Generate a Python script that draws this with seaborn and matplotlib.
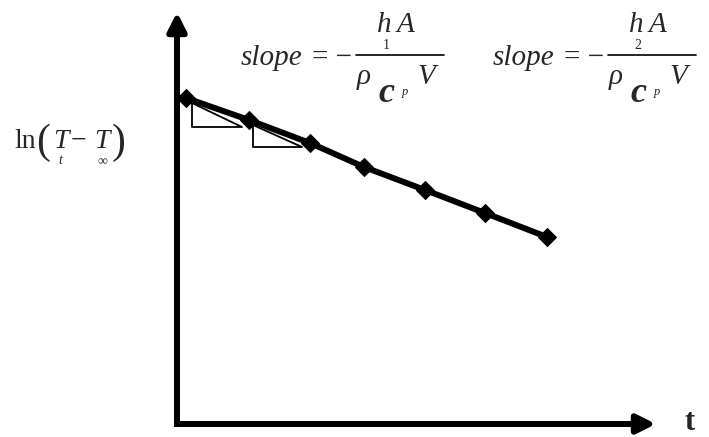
import numpy as np
import pandas as pd
import seaborn as sns
import matplotlib.pyplot as plt
plt.switch_backend('agg')

# data (t, ln(T_t - T_inf)), arbitrary units
t_vals = [0.9, 7.2, 13.3, 18.7, 24.8, 30.8, 37.0]
ln_vals = [32.6, 30.4, 28.1, 25.7, 23.4, 21.1, 18.7]

# slope triangles (closed polygons)
tri1_x = [1.5, 1.5, 6.5, 1.5]
tri1_y = [32.1, 29.7, 29.7, 32.1]
tri2_x = [7.6, 7.6, 12.5, 7.6]
tri2_y = [29.9, 27.7, 27.7, 29.9]

sns.set_style('white')
plt.rcParams['font.family'] = ['Liberation Serif', 'DejaVu Serif']

fig = plt.figure(figsize=(7.09, 4.37), dpi=100)
ax = fig.add_axes([0, 0, 1, 1])
ax.set_xlim(-17.7, 53.2)
ax.set_ylim(-1.3, 42.4)
ax.axis('off')

df = pd.DataFrame({'t': t_vals, 'lnT': ln_vals})
sns.lineplot(data=df, x='t', y='lnT', color='black', linewidth=4.3,
             marker='D', markersize=9, markeredgecolor='black', ax=ax)
ax.plot(tri1_x, tri1_y, color='black', lw=1.3)
ax.plot(tri2_x, tri2_y, color='black', lw=1.3)

# axes: L-shaped frame plus two arrow heads
ax.plot([0, 0, 46], [40, 0, 0], color='black', lw=4.3,
        solid_joinstyle='miter', solid_capstyle='butt')
arrow = dict(arrowstyle='-|>', color='black', lw=4.3, mutation_scale=28,
             shrinkA=0, shrinkB=0, capstyle='butt')
ax.annotate('', xy=(0, 41.2), xytext=(0, 38.0), arrowprops=arrow)
ax.annotate('', xy=(47.9, 0), xytext=(44.0, 0), arrowprops=arrow)

ax.text(51.3, 0.2, 't', fontsize=22, fontweight='bold', ha='center', va='center')

# slope formulas
def formula(x0, sub):
    ax.text(x0, 35.9, 'slope', fontsize=21, style='italic', ha='left', va='baseline')
    ax.text(x0 + 7.1, 35.9, '= \u2212', fontsize=21, ha='left', va='baseline')
    ax.plot([x0 + 11.5, x0 + 20.3], [36.9, 36.9], color='black', lw=1.2)
    ax.text(x0 + 13.6, 39.2, 'h', fontsize=21, style='italic', ha='left', va='baseline')
    ax.text(x0 + 15.6, 39.2, 'A', fontsize=21, style='italic', ha='left', va='baseline')
    ax.text(x0 + 14.5, 37.8, sub, fontsize=10, ha='center', va='center')
    ax.text(x0 + 11.6, 34.0, '\u03c1', fontsize=21, style='italic', ha='left', va='baseline')
    ax.text(x0 + 13.7, 32.2, 'c', fontsize=26, style='italic', fontweight='bold', ha='left', va='baseline')
    ax.text(x0 + 16.1, 32.9, 'p', fontsize=9, style='italic', ha='left', va='baseline')
    ax.text(x0 + 17.6, 34.0, 'V', fontsize=21, style='italic', ha='left', va='baseline')

formula(6.4, '1')
formula(31.6, '2')

# y label ln(T_t - T_inf)
ax.text(-16.3, 27.6, 'ln', fontsize=20, ha='left', va='baseline')
ax.text(-14.1, 27.1, '(', fontsize=30, ha='left', va='baseline')
ax.text(-12.4, 27.6, 'T', fontsize=20, style='italic', ha='left', va='baseline')
ax.text(-11.9, 26.0, 't', fontsize=10, style='italic', ha='left', va='baseline')
ax.text(-10.6, 27.6, '\u2212', fontsize=20, ha='left', va='baseline')
ax.text(-8.3, 27.6, 'T', fontsize=20, style='italic', ha='left', va='baseline')
ax.text(-7.9, 25.9, '\u221e', fontsize=10, ha='left', va='baseline')
ax.text(-6.5, 27.1, ')', fontsize=30, ha='left', va='baseline')

fig.savefig('out.png', dpi=100)
plt.close()
